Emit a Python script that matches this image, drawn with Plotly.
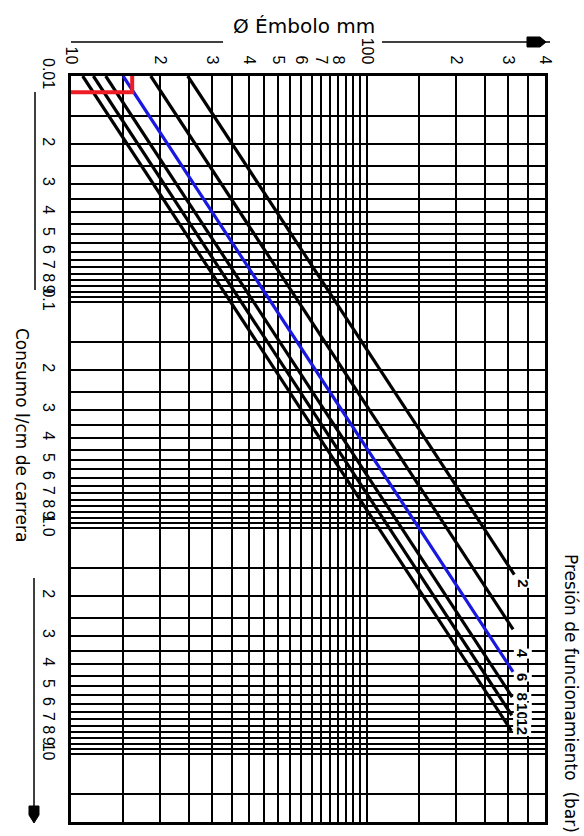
import plotly.graph_objects as go
import math

# ---- grid values (tick positions) ----
diam_grid = [10, 15, 20, 25, 30, 35, 40, 45, 50, 55, 60, 65, 70, 75, 80, 85, 90, 95,
             100, 150, 200, 250, 300, 350, 400]
diam_label_vals = [10, 20, 30, 40, 50, 60, 70, 80, 100, 200, 300, 400]
diam_label_text = ["10", "2", "3", "4", "5", "6", "7", "8", "100", "2", "3", "4"]

cons_grid = [0.01, 0.015, 0.02, 0.025, 0.03, 0.035, 0.04, 0.045, 0.05, 0.055, 0.06, 0.065,
             0.07, 0.075, 0.08, 0.085, 0.09, 0.095,
             0.1, 0.15, 0.2, 0.25, 0.3, 0.35, 0.4, 0.45, 0.5, 0.55, 0.6, 0.65, 0.7, 0.75,
             0.8, 0.85, 0.9, 0.95,
             1.0, 1.5, 2.0, 2.5, 3.0, 3.5, 4.0, 4.5, 5.0, 5.5, 6.0, 6.5, 7.0, 7.5, 8.0, 8.5,
             9.0, 9.5, 10, 15, 20]
cons_label_vals = [0.01, 0.02, 0.03, 0.04, 0.05, 0.06, 0.07, 0.08, 0.09,
                   0.1, 0.2, 0.3, 0.4, 0.5, 0.6, 0.7, 0.8, 0.9,
                   1.0, 2, 3, 4, 5, 6, 7, 8, 9, 10]
cons_label_text = ["0.01", "2", "3", "4", "5", "6", "7", "8", "9",
                   "0.1", "2", "3", "4", "5", "6", "7", "8", "9",
                   "1.0", "2", "3", "4", "5", "6", "7", "8", "9", "10"]

# ---- pressure lines ----
pressures = ["2", "4", "6", "8", "10", "12"]
d_start = [24.8, 18.6, 15.0, 13.1, 11.9, 10.95]
q_start = [0.01, 0.01, 0.01, 0.01, 0.01, 0.01]
d_end = [315, 312, 312, 310, 309, 308]
q_end = [1.61, 2.81, 4.33, 5.6, 6.74, 7.9]
line_colors = ["black", "black", "#1818e0", "black", "black", "black"]
label_q = [1.75, 3.6, 4.55, 5.55, 6.5, 7.6]

# ---- example reading (red marker) ----
example_d = [10, 16.1, 16.1]
example_q = [0.0118, 0.0118, 0.01]

FONT = "Liberation Sans, Arial, sans-serif"
TFONT = "DejaVu Sans, sans-serif"

fig = go.Figure()
for p, d0, q0, d1, q1, c in zip(pressures, d_start, q_start, d_end, q_end, line_colors):
    fig.add_trace(go.Scatter(x=[d0, d1], y=[q0, q1], mode="lines",
                             line=dict(color=c, width=3.2), showlegend=False,
                             hoverinfo="skip"))
fig.add_trace(go.Scatter(x=example_d, y=example_q, mode="lines",
                         line=dict(color="#ee1c24", width=4), showlegend=False,
                         hoverinfo="skip"))

lbl_map_x = dict(zip(diam_label_vals, diam_label_text))
lbl_map_y = dict(zip(cons_label_vals, cons_label_text))

fig.update_xaxes(type="log", side="top", range=[1, math.log10(400)],
                 tickmode="array", tickvals=diam_grid,
                 ticktext=[lbl_map_x.get(v, "") for v in diam_grid],
                 tickangle=90, tickfont=dict(family=FONT, size=16, color="black"),
                 ticklabelstandoff=3,
                 showgrid=True, gridcolor="black", gridwidth=1.7,
                 showline=True, linecolor="black", linewidth=3, mirror=True,
                 ticks="", zeroline=False, automargin=False)
fig.update_yaxes(type="log", range=[math.log10(20), -2],
                 tickmode="array", tickvals=cons_grid,
                 ticktext=[lbl_map_y.get(v, "") for v in cons_grid],
                 tickangle=90, tickfont=dict(family=FONT, size=16, color="black"),
                 ticklabelstandoff=6,
                 showgrid=True, gridcolor="black", gridwidth=1.7,
                 showline=True, linecolor="black", linewidth=3, mirror=True,
                 ticks="", zeroline=False, automargin=False)

L, R, T, B = 71, 545, 76, 822
def px(x):
    return (x - L) / (R - L)
def py(y):
    return (B - y) / (B - T)

ann = []
for p, q in zip(pressures, label_q):
    ann.append(dict(x=math.log10(336), y=math.log10(q), xref="x", yref="y", text="<b>%s</b>" % p,
                    showarrow=False, textangle=90, bgcolor="white",
                    xanchor="center", yanchor="middle",
                    font=dict(family=FONT, size=15, color="black"), borderpad=0))
ann.append(dict(x=px(304), y=py(26), xref="paper", yref="paper", text="Ø Émbolo mm",
                xanchor="center", yanchor="middle",
                showarrow=False, font=dict(family=TFONT, size=20, color="black")))
ann.append(dict(x=px(22), y=py(435), xref="paper", yref="paper", text="Consumo l/cm de carrera",
                xanchor="center", yanchor="middle",
                showarrow=False, textangle=90, font=dict(family=TFONT, size=17, color="black")))
ann.append(dict(x=px(571), y=py(693), xref="paper", yref="paper",
                text="Presión de funcionamiento  (bar)",
                xanchor="center", yanchor="middle",
                showarrow=False, textangle=90, font=dict(family=TFONT, size=17, color="black")))

def pth(points):
    s = "M " + " L ".join("%f,%f" % (px(a), py(b)) for a, b in points) + " Z"
    return s

shapes = [
    dict(type="line", xref="paper", yref="paper", x0=px(71), y0=py(42), x1=px(223), y1=py(42),
         line=dict(color="black", width=1.5)),
    dict(type="line", xref="paper", yref="paper", x0=px(382), y0=py(42), x1=px(550), y1=py(42),
         line=dict(color="black", width=1.5)),
    dict(type="path", xref="paper", yref="paper",
         path=pth([(527, 37), (540, 37), (546, 42), (540, 47), (527, 47)]),
         fillcolor="black", line=dict(color="black", width=1)),
    dict(type="line", xref="paper", yref="paper", x0=px(35), y0=py(92), x1=px(35), y1=py(290),
         line=dict(color="black", width=1.5)),
    dict(type="line", xref="paper", yref="paper", x0=px(34), y0=py(578), x1=px(34), y1=py(812),
         line=dict(color="black", width=1.5)),
    dict(type="path", xref="paper", yref="paper",
         path=pth([(29, 806), (39, 806), (39, 815), (34, 823), (29, 815)]),
         fillcolor="black", line=dict(color="black", width=1)),
]

fig.update_layout(width=584, height=836, margin=dict(l=L, r=584 - R, t=T, b=836 - B),
                  paper_bgcolor="white", plot_bgcolor="white",
                  annotations=ann, shapes=shapes, showlegend=False,
                  font=dict(family=FONT, color="black"))
fig.write_html("out.html", config={"displayModeBar": False},
               post_script="document.body.style.margin='0';document.body.style.overflow='hidden';")
